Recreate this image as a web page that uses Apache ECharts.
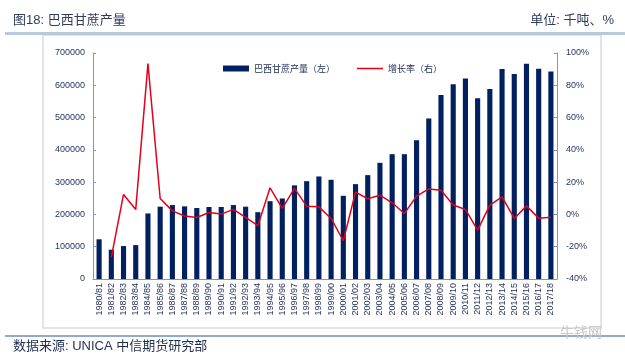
<!DOCTYPE html>
<html>
<head>
<meta charset="utf-8">
<script src="https://cdn.jsdelivr.net/npm/echarts@6/dist/echarts.min.js"></script>
<style>
html,body{margin:0;padding:0;background:#fff;}
#chart{width:625px;height:361px;}
</style>
</head>
<body>
<div id="chart"></div>
<script>
const categories = ['1980/81','1981/82','1982/83','1983/84','1984/85','1985/86','1986/87','1987/88','1988/89','1989/90','1990/91','1991/92','1992/93','1993/94','1994/95','1995/96','1996/97','1997/98','1998/99','1999/00','2000/01','2001/02','2002/03','2003/04','2004/05','2005/06','2006/07','2007/08','2008/09','2009/10','2010/11','2011/12','2012/13','2013/14','2014/15','2015/16','2016/17','2017/18'];
const production = [123000,90700,102000,105000,203000,224000,229000,225000,220000,223000,223000,229000,224000,207000,241000,249500,290000,303000,317600,307200,257700,293800,321700,359800,386600,386600,429900,497000,570000,603000,620700,559800,588700,650600,635000,667000,651600,642400];
const growth = [null,-26.6,12.4,3.1,93.4,9.9,2.2,-1.0,-1.9,1.2,0.2,3.1,-1.9,-7.0,16.5,3.7,16.1,5.1,4.7,-2.5,-16.3,13.8,9.7,11.9,7.2,0.6,11.3,15.8,15.0,5.8,3.1,-9.7,5.8,10.9,-2.5,5.3,-2.3,-1.7];
const leftTicks = {min:0, max:700000, interval:100000};
const rightTicks = {min:-40, max:100, interval:20};
const seriesNames = ['巴西甘蔗产量（左）','增长率（右）'];

const fontFamily = '"Liberation Sans", Arial, "Noto Sans CJK SC", sans-serif';
const axisColor = '#8796B4';
const labelColor = '#1F2D5A';

const chart = echarts.init(document.getElementById('chart'), null, {renderer:'canvas'});
chart.setOption({
  animation:false,
  backgroundColor:'#ffffff',
  textStyle:{fontFamily:fontFamily},
  graphic:[
    {type:'text', left:13, top:14, style:{text:'图18: 巴西甘蔗产量', font:'13px "Liberation Sans","Noto Sans CJK SC",sans-serif', fill:'#2F3C5E'}},
    {type:'text', right:11, top:14, style:{text:'单位: 千吨、%', font:'13px "Liberation Sans","Noto Sans CJK SC",sans-serif', fill:'#2F3C5E'}},
    {type:'rect', shape:{x:5, y:32, width:620, height:3}, style:{fill:'#B7C9DB'}},
    {type:'rect', shape:{x:43, y:35, width:558, height:293}, style:{fill:'none', stroke:'#DCDCDC', lineWidth:1.5}, z:-1},
    {type:'rect', shape:{x:5, y:335, width:620, height:2}, style:{fill:'#8FAACB'}},
    {type:'text', left:13, top:340, style:{text:'数据来源: UNICA 中信期货研究部', font:'13px "Liberation Sans","Noto Sans CJK SC",sans-serif', fill:'#1F2D4F'}},
    {type:'text', left:560, top:325, style:{text:'牛钱网', font:'14px "Noto Sans CJK SC",sans-serif', fill:'#C8C8C8'}}
  ],
  legend:{
    left:218, top:59,
    itemWidth:26, itemHeight:6, itemGap:22,
    textStyle:{fontSize:9, color:labelColor, fontFamily:'"Noto Sans CJK SC",sans-serif'},
    data:[
      {name:seriesNames[0], icon:'rect'},
      {name:seriesNames[1], icon:'path://M0,0H26V1.5H0Z', itemStyle:{color:'#E3001B'}}
    ]
  },
  grid:{left:93, right:68, top:53, bottom:82, containLabel:false},
  xAxis:{
    type:'category', data:categories, boundaryGap:true,
    axisLine:{lineStyle:{color:axisColor}},
    axisTick:{show:false},
    axisLabel:{rotate:90, interval:0, fontSize:9, color:labelColor, margin:4, fontFamily:fontFamily}
  },
  yAxis:[
    {type:'value', min:leftTicks.min, max:leftTicks.max, interval:leftTicks.interval,
     axisLine:{show:true, lineStyle:{color:axisColor}},
     axisTick:{show:true, inside:true, length:3, lineStyle:{color:axisColor}},
     splitLine:{show:false},
     axisLabel:{fontSize:9, color:labelColor, margin:8, fontFamily:fontFamily, formatter:function(v){return String(v);}}},
    {type:'value', min:rightTicks.min, max:rightTicks.max, interval:rightTicks.interval, position:'right',
     axisLine:{show:true, lineStyle:{color:axisColor}},
     axisTick:{show:true, inside:true, length:3, lineStyle:{color:axisColor}},
     splitLine:{show:false},
     axisLabel:{fontSize:9, color:labelColor, margin:9, formatter:'{value}%', fontFamily:fontFamily}}
  ],
  series:[
    {name:seriesNames[0], type:'bar', data:production, yAxisIndex:0, barWidth:'42%',
     itemStyle:{color:'#002060'}},
    {name:seriesNames[1], type:'line', data:growth, yAxisIndex:1, symbol:'none', connectNulls:false,
     lineStyle:{color:'#E3001B', width:1.5}, itemStyle:{color:'#E3001B'}, z:3}
  ]
});
</script>
</body>
</html>
